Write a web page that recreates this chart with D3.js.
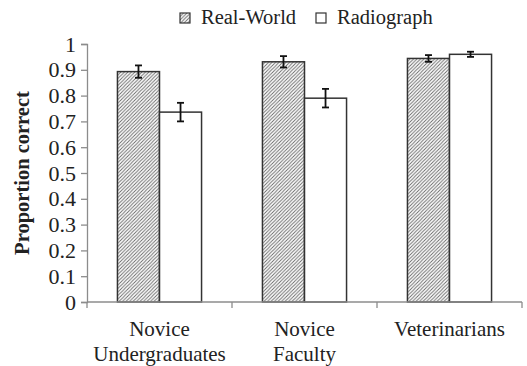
<!DOCTYPE html>
<html>
<head>
<meta charset="utf-8">
<script src="https://cdn.jsdelivr.net/npm/d3@7"></script>
<style>
  body { margin: 0; background: #fff; }
  svg { display: block; font-family: "Liberation Serif", "Times New Roman", serif; }
</style>
</head>
<body>
<div id="chart"></div>
<script>
// data
const groups = [['Novice', 'Undergraduates'], ['Novice', 'Faculty'], ['Veterinarians']]
const series = ['Real-World', 'Radiograph']
const realWorld = [0.893, 0.931, 0.944]
const realWorldErr = [0.024, 0.022, 0.013]
const radiograph = [0.736, 0.79, 0.96]
const radiographErr = [0.036, 0.036, 0.01]
const yTicks = [0, 0.1, 0.2, 0.3, 0.4, 0.5, 0.6, 0.7, 0.8, 0.9, 1]

const width = 527, height = 366
const margin = { top: 44, right: 5, bottom: 64, left: 87 }

const svg = d3.select('#chart').append('svg')
    .attr('width', width)
    .attr('height', height)

// hatch pattern
const defs = svg.append('defs')
defs.append('pattern')
    .attr('id', 'hatch')
    .attr('patternUnits', 'userSpaceOnUse')
    .attr('width', 3.5)
    .attr('height', 3.5)
    .append('path')
    .attr('d', 'M-1,1 l2,-2 M0,3.5 l3.5,-3.5 M2.5,4.5 l2,-2')
    .attr('stroke', '#666')
    .attr('stroke-width', 0.9)

const g = svg.append('g')
    .attr('transform', `translate(${margin.left},${margin.top})`)

const chartWidth = width - margin.left - margin.right
const chartHeight = height - margin.top - margin.bottom

const rows = groups.map((d, i) => ({
    key: i,
    values: [
        { s: 0, v: realWorld[i], e: realWorldErr[i] },
        { s: 1, v: radiograph[i], e: radiographErr[i] }
    ]
}))

const x0 = d3.scaleBand()
    .domain(rows.map(d => d.key))
    .range([0, chartWidth])
    .paddingInner(0.42)
    .paddingOuter(0.21)

const x1 = d3.scaleBand()
    .domain([0, 1])
    .range([0, x0.bandwidth()])

const y = d3.scaleLinear()
    .domain([0, 1])
    .range([chartHeight, 0])

// y axis
const yAxis = g.append('g')
    .call(d3.axisLeft(y).tickValues(yTicks).tickSize(6).tickPadding(5).tickFormat(d => d))
yAxis.select('.domain').attr('stroke', '#8c8c8c').attr('stroke-width', 1.3)
yAxis.selectAll('.tick line').attr('stroke', '#8c8c8c').attr('stroke-width', 1.3)
yAxis.selectAll('.tick text')
    .attr('fill', '#222')
    .style('font-size', '22px')
    .style('font-family', '"Liberation Serif", serif')

// bars
const grp = g.selectAll('.grp')
    .data(rows)
    .join('g')
    .attr('transform', d => `translate(${x0(d.key)},0)`)

grp.selectAll('rect')
    .data(d => d.values)
    .join('rect')
    .attr('x', d => x1(d.s))
    .attr('width', x1.bandwidth())
    .attr('y', d => y(d.v))
    .attr('height', d => y(0) - y(d.v))
    .attr('fill', d => d.s === 0 ? 'url(#hatch)' : '#fff')
    .attr('stroke', '#333')
    .attr('stroke-width', 1.5)

// error bars
const cap = 3.5
const eb = grp.selectAll('.err')
    .data(d => d.values)
    .join('g')
    .attr('stroke', '#111')
    .attr('stroke-width', 1.8)
eb.append('line')
    .attr('x1', d => x1(d.s) + x1.bandwidth() / 2)
    .attr('x2', d => x1(d.s) + x1.bandwidth() / 2)
    .attr('y1', d => y(d.v + d.e))
    .attr('y2', d => y(d.v - d.e))
eb.append('line')
    .attr('x1', d => x1(d.s) + x1.bandwidth() / 2 - cap)
    .attr('x2', d => x1(d.s) + x1.bandwidth() / 2 + cap)
    .attr('y1', d => y(d.v + d.e))
    .attr('y2', d => y(d.v + d.e))
eb.append('line')
    .attr('x1', d => x1(d.s) + x1.bandwidth() / 2 - cap)
    .attr('x2', d => x1(d.s) + x1.bandwidth() / 2 + cap)
    .attr('y1', d => y(d.v - d.e))
    .attr('y2', d => y(d.v - d.e))

// x axis with ticks at category boundaries
const xa = g.append('g').attr('transform', `translate(0,${chartHeight})`)
xa.append('line')
    .attr('x1', 0).attr('x2', chartWidth)
    .attr('stroke', '#8c8c8c').attr('stroke-width', 1.3)
xa.selectAll('.bt')
    .data(d3.range(groups.length + 1))
    .join('line')
    .attr('x1', i => i === groups.length ? chartWidth : x0(i) - (x0.step() - x0.bandwidth()) / 2)
    .attr('x2', i => i === groups.length ? chartWidth : x0(i) - (x0.step() - x0.bandwidth()) / 2)
    .attr('y1', 0).attr('y2', 6)
    .attr('stroke', '#8c8c8c').attr('stroke-width', 1.3)

const lbl = xa.selectAll('.lbl')
    .data(rows)
    .join('text')
    .attr('x', d => x0(d.key) + x0.bandwidth() / 2)
    .attr('text-anchor', 'middle')
    .attr('fill', '#222')
    .style('font-size', '21px')
lbl.selectAll('tspan')
    .data(d => groups[d.key])
    .join('tspan')
    .attr('x', function () { return d3.select(this.parentNode).attr('x') })
    .attr('y', (d, i) => 34 + i * 24.5)
    .text(d => d)

// y axis title
svg.append('text')
    .attr('transform', `translate(29,${margin.top + chartHeight / 2}) rotate(-90)`)
    .attr('text-anchor', 'middle')
    .attr('font-weight', 'bold')
    .attr('fill', '#222')
    .style('font-size', '20.5px')
    .text('Proportion correct')

// legend
const legend = svg.append('g').attr('transform', 'translate(180,13)')
const lx = [0, 136]
const li = legend.selectAll('g')
    .data(series)
    .join('g')
    .attr('transform', (d, i) => `translate(${lx[i]},0)`)
li.append('rect')
    .attr('width', 10).attr('height', 10)
    .attr('fill', (d, i) => i === 0 ? 'url(#hatch)' : '#fff')
    .attr('stroke', '#333').attr('stroke-width', 1.2)
li.append('text')
    .attr('x', 21).attr('y', 11)
    .attr('fill', '#222')
    .style('font-size', '20.5px')
    .text(d => d)
</script>
</body>
</html>
